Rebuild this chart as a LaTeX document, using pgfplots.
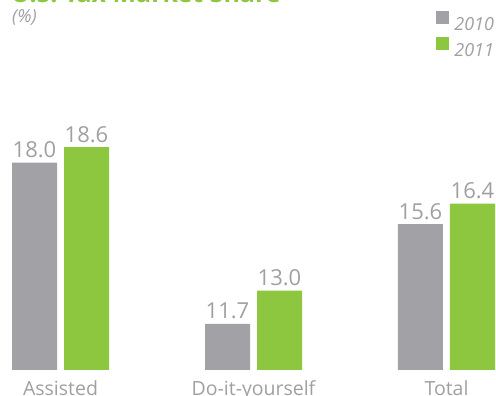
\documentclass[border=0pt]{standalone}
\usepackage{fontspec}
\setmainfont{Open Sans}
\usepackage{pgfplots}
\pgfplotsset{compat=1.18}
\definecolor{barGray}{RGB}{162,161,166}
\definecolor{barGreen}{RGB}{141,198,63}
\definecolor{txtGray}{RGB}{160,160,164}
\pgfplotsset{sqlegend/.style={legend image code/.code={\fill[##1] (0pt,0pt) rectangle (13pt,13pt);}}}
\begin{document}
\begin{tikzpicture}
\begin{axis}[
  at={(0pt,0pt)}, anchor=south west,
  scale only axis, width=496pt, height=370pt,
  xmin=-0.3135, xmax=2.2565,
  ymin=9.9, ymax=24.35,
  ybar, bar width=45pt,
  axis line style={draw=none},
  ytick=\empty,
  xtick={0,1,2}, xticklabels={Assisted,Do-it-yourself,Total},
  major tick length=0pt,
  xticklabel style={font=\fontsize{19.5}{22}\selectfont, text=txtGray, anchor=north, inner sep=0pt, yshift=-10pt},
  point meta=explicit symbolic,
  nodes near coords,
  nodes near coords style={font=\fontsize{22}{24}\selectfont, text=txtGray, anchor=base, inner sep=0pt, yshift=5pt},
  every axis plot post/.append style={sqlegend},
  legend style={at={(rel axis cs:1,1)}, anchor=north east, xshift=-2pt, yshift=-11pt, draw=none, fill=none, inner sep=0pt, outer sep=0pt, font=\fontsize{18}{20}\selectfont\itshape, text=txtGray, row sep=7pt, column sep=5pt, nodes={inner sep=0pt, text height=13pt, text depth=0pt}},
]
\addplot[fill=barGray, draw=none, bar shift=-26pt] coordinates {(0,18.0)[18.0] (1,11.7)[11.7] (2,15.6)[15.6]};
\addplot[fill=barGreen, draw=none, bar shift=26pt] coordinates {(0,18.6)[18.6] (1,13.0)[13.0] (2,16.4)[16.4]};
\legend{2010,2011}
\end{axis}
\node[anchor=base west, font=\fontsize{25}{28}\selectfont\bfseries, text=barGreen, inner sep=0pt] at (11pt,367pt) {U.S. Tax Market Share};
\node[anchor=base west, font=\fontsize{18}{20}\selectfont\itshape, text=txtGray, inner sep=0pt] at (12pt,347pt) {(\%)};
\pgfresetboundingbox
\useasboundingbox (0pt,-26pt) rectangle (496pt,370pt);
\end{tikzpicture}
\end{document}
